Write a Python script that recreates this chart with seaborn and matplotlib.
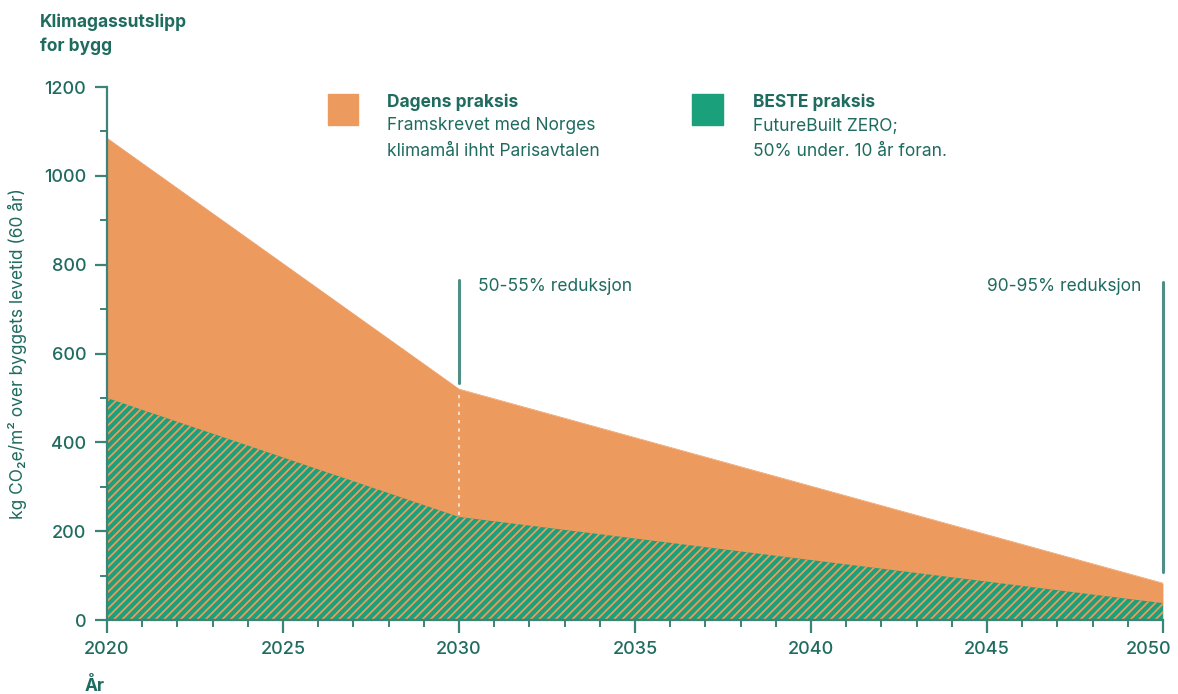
import pandas as pd
import matplotlib.pyplot as plt
import matplotlib.transforms as mtransforms
import seaborn as sns

# data
years = [2020, 2030, 2050]
dagens = [1085, 520, 83]      # Dagens praksis
beste = [500, 232, 38]        # BESTE praksis (FutureBuilt ZERO)

df = pd.DataFrame({'År': years, 'Dagens': dagens, 'Beste': beste})

ORANGE = '#ec9a5e'
GREEN = '#1aa07a'
TEAL = '#1f6b5f'
AXIS = '#3d8378'

sns.set_theme(style='white')
plt.rcParams['font.family'] = ['Inter', 'DejaVu Sans']
plt.rcParams['hatch.linewidth'] = 1.3

fig = plt.figure(figsize=(11.78, 6.94), dpi=100)
ax = fig.add_axes([0.0908, 0.1066, 0.8964, 0.768])

# areas
sns.lineplot(data=df, x='År', y='Dagens', color=ORANGE, lw=0.5, ax=ax)
ax.fill_between(df['År'], df['Dagens'], color=ORANGE, lw=0)
ax.fill_between(df['År'], df['Beste'], facecolor=GREEN, edgecolor=ORANGE,
                hatch='////', lw=0)

ax.set_xlim(2020, 2050)
ax.set_ylim(0, 1200)
ax.set_xticks(range(2020, 2051, 5))
ax.set_xticks(range(2020, 2051, 1), minor=True)
ax.set_yticks(range(0, 1201, 200))
ax.set_yticks(range(0, 1201, 100), minor=True)

for s in ['top', 'right']:
    ax.spines[s].set_visible(False)
for s in ['left', 'bottom']:
    ax.spines[s].set_color(AXIS)
    ax.spines[s].set_linewidth(1.6)
ax.tick_params(which='major', length=9, width=1.6, color=AXIS,
               labelsize=13, labelcolor=TEAL, pad=6, direction='out')
ax.tick_params(which='minor', length=5, width=1.4, color=AXIS, direction='out')
ax.tick_params(axis='x', which='both', bottom=True)
ax.tick_params(axis='y', which='both', left=True)
for lab in ax.get_xticklabels() + ax.get_yticklabels():
    lab.set_fontweight('medium')

# last x label pulled in so it fits inside the figure
fig.canvas.draw()
last = ax.get_xticklabels()[-1]
last.set_transform(last.get_transform() +
                   mtransforms.ScaledTranslation(-14 / 100, 0, fig.dpi_scale_trans))

ax.set_xlabel('')
ax.set_ylabel('kg CO₂e/m² over byggets levetid (60 år)', color=TEAL,
              fontsize=12.5, labelpad=12)

# reference markers
ax.plot([2030, 2030], [533, 765], color='#4f8f86', lw=2.2)
ax.plot([2030, 2030], [237, 515], color='white', lw=1.2, ls=(0, (2, 3)), alpha=0.8)
ax.plot([2050, 2050], [108, 760], color='#4f8f86', lw=2.2, clip_on=False)
ax.text(2030.55, 752, '50-55% reduksjon', color=TEAL, fontsize=12.5,
        ha='left', va='center')
ax.text(2049.4, 752, '90-95% reduksjon', color=TEAL, fontsize=12.5,
        ha='right', va='center')

# legend blocks
fig.patches.append(plt.Rectangle((328 / 1178, 1 - 125 / 694), 30 / 1178, 31 / 694,
                                 transform=fig.transFigure, color=ORANGE))
fig.patches.append(plt.Rectangle((692 / 1178, 1 - 125 / 694), 31 / 1178, 31 / 694,
                                 transform=fig.transFigure, color=GREEN))
fig.text(387 / 1178, 1 - 102 / 694, 'Dagens praksis', color=TEAL, fontsize=12.5,
         fontweight='bold', va='center')
fig.text(387 / 1178, 1 - 126 / 694, 'Framskrevet med Norges', color=TEAL,
         fontsize=12.5, va='center')
fig.text(387 / 1178, 1 - 151 / 694, 'klimamål ihht Parisavtalen', color=TEAL,
         fontsize=12.5, va='center')
fig.text(753 / 1178, 1 - 102 / 694, 'BESTE praksis', color=TEAL, fontsize=12.5,
         fontweight='bold', va='center')
fig.text(753 / 1178, 1 - 126 / 694, 'FutureBuilt ZERO;', color=TEAL,
         fontsize=12.5, va='center')
fig.text(753 / 1178, 1 - 151 / 694, '50% under. 10 år foran.', color=TEAL,
         fontsize=12.5, va='center')

# titles
fig.text(40 / 1178, 1 - 22 / 694, 'Klimagassutslipp', color=TEAL, fontsize=12.5,
         fontweight='bold', va='center')
fig.text(40 / 1178, 1 - 46 / 694, 'for bygg', color=TEAL, fontsize=12.5,
         fontweight='bold', va='center')
fig.text(85 / 1178, 1 - 686 / 694, 'År', color=TEAL, fontsize=12.5,
         fontweight='bold', va='center')

fig.savefig('out.png', dpi=100)
